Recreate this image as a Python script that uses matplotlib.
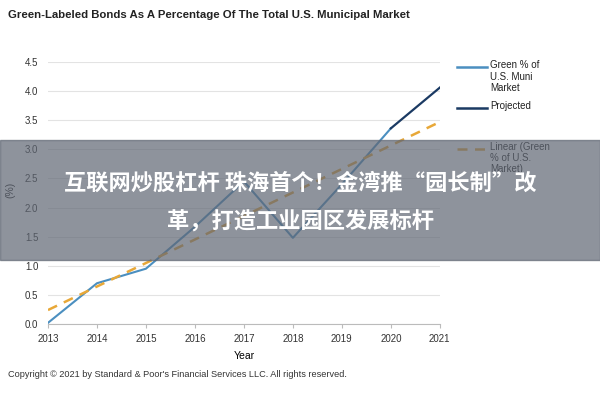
import matplotlib

matplotlib.use("Agg")
import matplotlib.pyplot as plt
from matplotlib.lines import Line2D
from matplotlib.patches import Rectangle

plt.rcParams["font.family"] = ["Liberation Sans", "DejaVu Sans"]

years = [2013, 2014, 2015, 2016, 2017, 2018, 2019, 2020]
green_share = [0.02, 0.70, 0.95, 1.67, 2.45, 1.48, 2.40, 3.36]
proj_years = [2020, 2021]
proj_share = [3.36, 4.06]
trend_years = [2013, 2021]
trend_share = [0.24, 3.47]
x_ticks = list(range(2013, 2022))
y_ticks = [0.0, 0.5, 1.0, 1.5, 2.0, 2.5, 3.0, 3.5, 4.0, 4.5]

GREEN = "#4b8fc0"
NAVY = "#1b3a63"
TREND = "#e8a838"
TREND_LS = (0, (4, 3))

fig = plt.figure(figsize=(6, 4), dpi=100)
ax = fig.add_axes([0.08, 0.19, 0.653, 0.655])

ax.plot(years, green_share, color=GREEN, lw=1.5)
ax.plot(proj_years, proj_share, color=NAVY, lw=1.6)
ax.plot(trend_years, trend_share, color=TREND, lw=1.8, ls=TREND_LS)

ax.set_xlim(2013, 2021)
ax.set_ylim(0, 4.5)
ax.set_xticks(x_ticks)
ax.set_yticks(y_ticks)
ax.set_yticklabels([f"{v:.1f}" for v in y_ticks])
ax.tick_params(axis="both", labelsize=7, colors="#333333")
ax.tick_params(axis="y", length=0, pad=7)
ax.tick_params(axis="x", length=3, color="#bbbbbb", pad=4)
ax.grid(axis="y", color="#e3e3e3", lw=0.8)
ax.set_axisbelow(True)
for side in ["top", "right", "left"]:
    ax.spines[side].set_visible(False)
ax.spines["bottom"].set_color("#bbbbbb")

ax.set_xlabel("Year", fontsize=7.5, labelpad=5)
fig.text(0.018, 0.525, "(%)", rotation=90, fontsize=7.5, ha="center", va="center", color="#222222")

# legend drawn by hand so that the handle sits on the first text line
legend_rows = [
    (0.832, "Green % of\nU.S. Muni\nMarket", GREEN, "-"),
    (0.730, "Projected", NAVY, "-"),
    (0.628, "Linear (Green\n% of U.S.\nMarket)", TREND, TREND_LS),
]
for y, text, color, ls in legend_rows:
    fig.add_artist(Line2D([0.762, 0.812], [y, y], transform=fig.transFigure,
                          color=color, lw=1.8, ls=ls))
    fig.text(0.817, y + 0.017, text, fontsize=7, va="top", ha="left",
             color="#222222", linespacing=1.15)

fig.text(0.013, 0.955, "Green-Labeled Bonds As A Percentage Of The Total U.S. Municipal Market",
         fontsize=8.2, fontweight="bold", color="#222222")
fig.text(0.013, 0.057, "Copyright \u00a9 2021 by Standard & Poor's Financial Services LLC. All rights reserved.",
         fontsize=6.6, color="#333333")

# overlay banner
fig.patches.append(Rectangle((0, 0.35), 1, 0.3, transform=fig.transFigure,
                             color="#5f6673", alpha=0.7, zorder=10))
cjk = ["Noto Sans CJK SC", "DejaVu Sans"]
fig.text(0.5, 0.543, "互联网炒股杠杆 珠海首个！金湾推“园长制”改", ha="center", va="center",
         fontsize=16, fontweight="bold", color="white", family=cjk, zorder=11)
fig.text(0.5, 0.445, "革，打造工业园区发展标杆", ha="center", va="center",
         fontsize=16, fontweight="bold", color="white", family=cjk, zorder=11)

fig.savefig("out.png", dpi=100)
